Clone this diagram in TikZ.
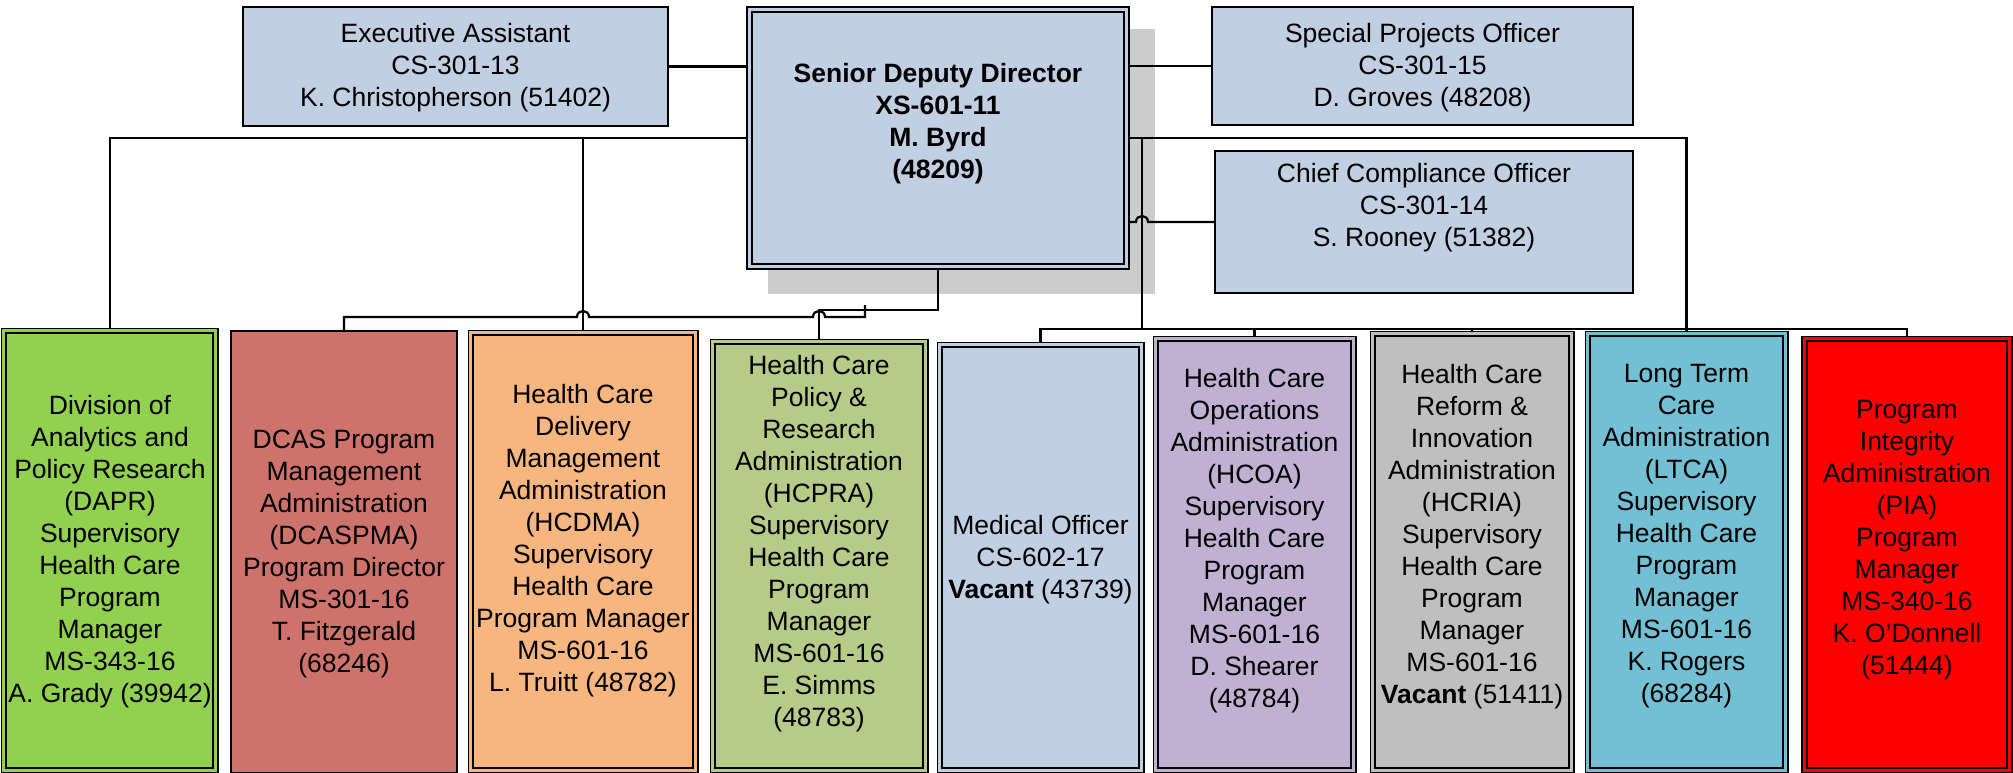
\documentclass[tikz,border=0pt]{standalone}
\usepackage{fontspec}
\setmainfont{Liberation Sans}
\definecolor{cBlue}{RGB}{193,207,226}
\definecolor{cDapr}{RGB}{146,208,80}
\definecolor{cDcas}{RGB}{205,115,108}
\definecolor{cHcdma}{RGB}{247,181,127}
\definecolor{cHcpra}{RGB}{183,203,137}
\definecolor{cHcoa}{RGB}{192,177,210}
\definecolor{cHcria}{RGB}{191,191,191}
\definecolor{cLtca}{RGB}{115,191,212}
\definecolor{cPia}{RGB}{255,0,0}
\definecolor{cShadow}{RGB}{204,204,204}
\begin{document}
\begin{tikzpicture}[x=1pt,y=-1pt,
  sbox/.style={draw=black, line width=2.2pt, fill=#1, inner sep=0pt, outer sep=1.1pt},
  dbox/.style={draw=black, line width=1.9pt, double=#1, double distance=3pt, fill=#1, inner sep=0pt, outer sep=3.4pt},
  lbl/.style={align=center, font=\fontsize{26.5}{32}\selectfont, inner sep=0pt},
  lblb/.style={align=center, font=\fontsize{26.5}{32}\selectfont\bfseries, inner sep=0pt},
  conn/.style={line width=2.2pt, line join=miter}]
\useasboundingbox (0,0) rectangle (2013,773);
% shadow of the director box
\node[fill=cShadow, draw=none, inner sep=0pt, minimum width=387, minimum height=265] (shadow) at (961.5,161.5) {};
% top boxes
\node[sbox=cBlue, minimum width=424.8, minimum height=118.8] (exec) at (455.5,66.5) {};
\node[dbox=cBlue, minimum width=377.2, minimum height=257.2] (sdd) at (938,138) {};
\node[sbox=cBlue, minimum width=420.8, minimum height=117.8] (spo) at (1422.5,66) {};
\node[sbox=cBlue, minimum width=417.8, minimum height=141.8] (cco) at (1424,222) {};
% bottom boxes
\node[dbox=cDapr, minimum width=211.7, minimum height=439.7] (dapr) at (109.75,550.75) {};
\node[sbox=cDcas, minimum width=225.8, minimum height=441.8] (dcas) at (344,552) {};
\node[dbox=cHcdma, minimum width=224.7, minimum height=437.7] (hcdma) at (583.25,551.75) {};
\node[dbox=cHcpra, minimum width=212.2, minimum height=428.7] (hcpra) at (819,556.25) {};
\node[dbox=cBlue, minimum width=201.2, minimum height=425.7] (med) at (1040.5,557.75) {};
\node[dbox=cHcoa, minimum width=197.2, minimum height=431.7] (hcoa) at (1254.5,554.75) {};
\node[dbox=cHcria, minimum width=198.2, minimum height=436.7] (hcria) at (1472,552.25) {};
\node[dbox=cLtca, minimum width=197.2, minimum height=436.7] (ltca) at (1686.5,552.25) {};
\node[dbox=cPia, minimum width=205.2, minimum height=431.7] (pia) at (1907,554.75) {};
% connectors
\coordinate (jr) at (1142,138);
\coordinate (busR) at (1142,329);
\coordinate (jl) at (938,310);
\coordinate (busL) at (865,317);
\draw[conn] (exec.east) -- (exec.east -| sdd.west);
\draw[conn] (sdd.east |- spo.west) -- (spo.west);
\draw[conn] (sdd.west) -- (sdd.west -| dapr.north) -- (dapr.north);
\draw[conn] (sdd.west -| hcdma.north) -- (hcdma.north);
\draw[conn] (sdd.east) -- (sdd.east -| ltca.north) -- (ltca.north);
\draw[conn] (jr) -- (busR);
\draw[conn] (med.north) -- (med.north |- busR) -- (pia.north |- busR) -- (pia.north);
\draw[conn] (hcoa.north |- busR) -- (hcoa.north);
\draw[conn] (hcria.north |- busR) -- (hcria.north);
\draw[conn] (sdd.east |- cco.west) -- (1136,222) .. controls (1136,214) and (1148,214) .. (1148,222) -- (cco.west);
\draw[conn] (sdd.south) -- (jl) -- (jl -| hcpra.north) -- (hcpra.north);
\draw[conn] (dcas.north) -- (dcas.north |- busL) -- (577,317) .. controls (577,309) and (589,309) .. (589,317) -- (813,317) .. controls (813,309) and (825,309) .. (825,317) -- (busL) -- (865,305);
% texts
\node[lbl] (exec-t) at (455.5,67.6) {Executive Assistant\\CS-301-13\\K. Christopherson (51402)};
\node[lblb] (sdd-t) at (938,124.1) {Senior Deputy Director\\XS-601-11\\M. Byrd\\(48209)};
\node[lbl] (spo-t) at (1422.5,67.6) {Special Projects Officer\\CS-301-15\\D. Groves (48208)};
\node[lbl] (cco-t) at (1424,207.6) {Chief Compliance Officer\\CS-301-14\\S. Rooney (51382)};
\node[lbl] (dapr-t) at (110,552) {Division of\\Analytics and\\Policy Research\\(DAPR)\\Supervisory\\Health Care\\Program\\Manager\\MS-343-16\\A. Grady (39942)};
\node[lbl] (dcas-t) at (344,553.6) {DCAS Program\\Management\\Administration\\(DCASPMA)\\Program Director\\MS-301-16\\T. Fitzgerald\\(68246)};
\node[lbl] (hcdma-t) at (583,541) {Health Care\\Delivery\\Management\\Administration\\(HCDMA)\\Supervisory\\Health Care\\Program Manager\\MS-601-16\\L. Truitt (48782)};
\node[lbl] (hcpra-t) at (819,543.6) {Health Care\\Policy \&\\Research\\Administration\\(HCPRA)\\Supervisory\\Health Care\\Program\\Manager\\MS-601-16\\E. Simms\\(48783)};
\node[lbl] (med-t) at (1040.5,559.6) {Medical Officer\\CS-602-17\\\textbf{Vacant} (43739)};
\node[lbl] (hcoa-t) at (1254.5,540.6) {Health Care\\Operations\\Administration\\(HCOA)\\Supervisory\\Health Care\\Program\\Manager\\MS-601-16\\D. Shearer\\(48784)};
\node[lbl] (hcria-t) at (1472,536.6) {Health Care\\Reform \&\\Innovation\\Administration\\(HCRIA)\\Supervisory\\Health Care\\Program\\Manager\\MS-601-16\\\textbf{Vacant} (51411)};
\node[lbl] (ltca-t) at (1686.5,536.6) {Long Term\\Care\\Administration\\(LTCA)\\Supervisory\\Health Care\\Program\\Manager\\MS-601-16\\K. Rogers\\(68284)};
\node[lbl] (pia-t) at (1907,540) {Program\\Integrity\\Administration\\(PIA)\\Program\\Manager\\MS-340-16\\K. O’Donnell\\(51444)};
\end{tikzpicture}
\end{document}
